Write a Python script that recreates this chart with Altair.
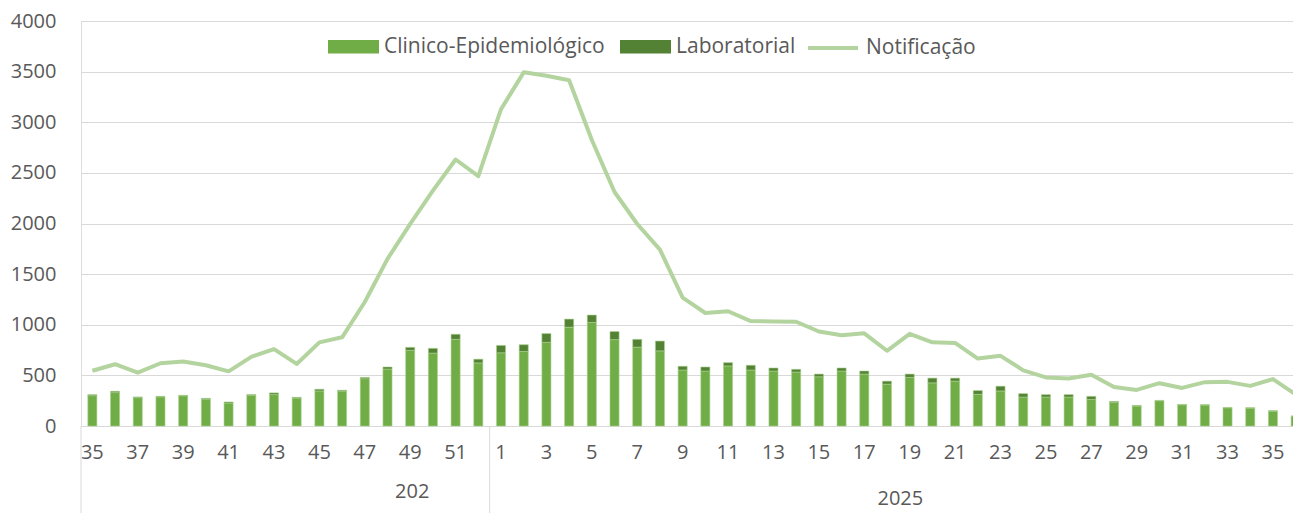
import altair as alt
import pandas as pd

weeks_2024 = list(range(35, 53))
weeks_2025 = list(range(1, 37))

clinico_2024 = [300, 330, 280, 288, 298, 265, 227, 303, 310, 276, 346, 345, 467, 563, 747, 720, 856, 623]
lab_2024 = [10, 13, 7, 5, 5, 8, 10, 7, 17, 7, 17, 8, 13, 20, 30, 47, 50, 37]
notif_2024 = [546, 610, 527, 620, 637, 600, 540, 683, 760, 613, 826, 876, 1225, 1650, 1997, 2325, 2632, 2467]

clinico_2025 = [723, 736, 826, 976, 1023, 853, 779, 742, 553, 543, 593, 553, 543, 533, 486, 543, 513, 413,
                480, 426, 443, 313, 346, 286, 286, 286, 263, 233, 197, 250, 210, 207, 180, 177, 147, 97]
lab_2025 = [73, 67, 87, 80, 73, 80, 77, 97, 37, 40, 33, 47, 30, 27, 27, 30, 30, 30,
            33, 47, 30, 37, 47, 34, 24, 24, 30, 10, 6, 3, 3, 3, 3, 3, 3, 3]
notif_2025 = [3129, 3493, 3460, 3414, 2825, 2311, 1995, 1742, 1268, 1116, 1133, 1036, 1033, 1030, 933, 896, 915, 743,
              910, 826, 820, 666, 693, 550, 480, 470, 506, 386, 356, 423, 376, 433, 436, 396, 463, 313]

series_bar = ["Clinico-Epidemiológico", "Laboratorial"]
series_line = ["Notificação"]
year_labels = ["202", "2025"]
year_label_keys = ["2024-49", "2025-19"]

keys = [f"2024-{w}" for w in weeks_2024] + [f"2025-{w}" for w in weeks_2025]
clin = clinico_2024 + clinico_2025
lab = lab_2024 + lab_2025
notif = notif_2024 + notif_2025

rows = []
for k, c, l in zip(keys, clin, lab):
    rows.append({"key": k, "tipo": series_bar[0], "valor": c, "ord": 0})
    rows.append({"key": k, "tipo": series_bar[1], "valor": l, "ord": 1})
bars_df = pd.DataFrame(rows)
line_df = pd.DataFrame({"key": keys, "notif": notif, "serie": series_line[0]})
sep_df = pd.DataFrame({"key": [keys[0], "2025-1"]})

W = 1212          # visible plot width (svg is 1285 wide)
XRANGE = 1226     # the category axis runs on past the right edge, as in the cropped original
H = 405
TXT = "#595959"
GRID = "#d9d9d9"
FONT = "Open Sans"

xscale = alt.Scale(domain=keys, paddingInner=0, paddingOuter=0, range=[0, XRANGE])
xaxis = alt.Axis(values=keys[::2], labelExpr="split(datum.value,'-')[1]", title=None,
                 labelAngle=0, ticks=False, domain=True, domainColor=GRID, domainWidth=1,
                 grid=False, labelPadding=16, labelFontSize=20, labelColor=TXT, labelFont=FONT)

def X(**kw):
    return alt.X("key:N", sort=keys, scale=xscale, axis=xaxis, **kw)

yscale = alt.Scale(domain=[0, 4000])
yaxis = alt.Axis(values=list(range(0, 4001, 500)), title=None, format="d", ticks=False, domain=False,
                 grid=True, gridColor=GRID, gridWidth=1, labelPadding=25, labelFontSize=20,
                 labelColor=TXT, labelFont=FONT)

bars = alt.Chart(bars_df).mark_bar(width=alt.RelativeBandSize(0.4), stroke="#a9d18e", strokeWidth=0.6).encode(
    x=X(),
    y=alt.Y("valor:Q", stack="zero", scale=yscale, axis=yaxis),
    color=alt.Color("tipo:N", scale=alt.Scale(domain=series_bar, range=["#70ad47", "#548235"]),
                    legend=alt.Legend(orient="none", legendX=247, legendY=0, direction="horizontal",
                                      title=None, symbolType="M-1,-0.26H1V0.26H-1Z", symbolSize=2601,
                                      symbolStrokeWidth=0, labelFontSize=21, labelFont=FONT, labelColor=TXT,
                                      labelOffset=5, columnPadding=15, padding=0, labelLimit=400)),
    order=alt.Order("ord:Q", sort="ascending"),
)

line = alt.Chart(line_df).mark_line(strokeWidth=4, strokeJoin="round").encode(
    x=X(),
    y=alt.Y("notif:Q", scale=yscale, axis=yaxis),
    stroke=alt.Stroke("serie:N", scale=alt.Scale(domain=series_line, range=["#b4d49f"]),
                      legend=alt.Legend(orient="none", legendX=725, legendY=0, direction="horizontal",
                                        title=None, symbolType="stroke", symbolSize=2500,
                                        symbolStrokeWidth=4, labelFontSize=21, labelFont=FONT,
                                        labelColor=TXT, labelOffset=6, padding=0, labelLimit=400)),
)

seps = alt.Chart(sep_df).mark_rule(color=GRID, strokeWidth=1).encode(
    x=X(bandPosition=0),
    y=alt.value(H),
    y2=alt.value(H + 92),
)

yr_df1 = pd.DataFrame({"key": [year_label_keys[0]], "label": [year_labels[0]]})
yr_df2 = pd.DataFrame({"key": [year_label_keys[1]], "label": [year_labels[1]]})

yr1 = alt.Chart(yr_df1).mark_text(fontSize=20, font=FONT, color=TXT, baseline="middle", align="center", dx=2).encode(
    x=X(bandPosition=0.5), y=alt.value(H + 66), text="label:N")
yr2 = alt.Chart(yr_df2).mark_text(fontSize=20, font=FONT, color=TXT, baseline="middle", align="center", dx=2).encode(
    x=X(bandPosition=0), y=alt.value(H + 73), text="label:N")

chart = alt.layer(bars, line, seps, yr1, yr2).properties(
    width=W, height=H,
    autosize=alt.AutoSizeParams(type="none"),
    padding={"left": 73, "top": 13, "right": 0, "bottom": 87},
).configure_view(strokeOpacity=0).configure(background="white")

chart.save("out.html", embed_options={"renderer": "svg", "actions": False})
